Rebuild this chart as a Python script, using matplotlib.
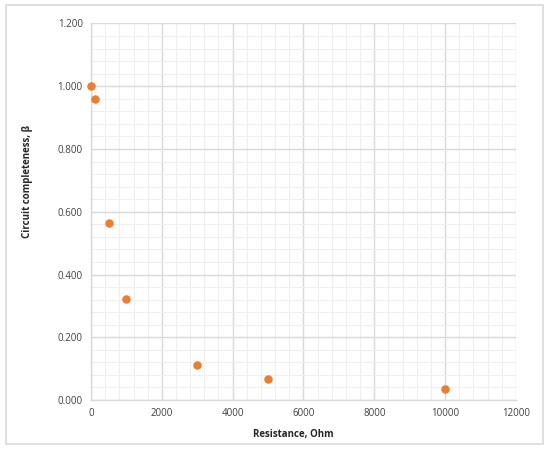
import matplotlib
matplotlib.use("Agg")
from matplotlib import pyplot as plt
from matplotlib.patches import Rectangle
from matplotlib.ticker import MultipleLocator, FormatStrFormatter

resistance = [0, 100, 500, 1000, 3000, 5000, 10000]
completeness = [1.000, 0.960, 0.563, 0.323, 0.113, 0.068, 0.034]

plt.rcParams["font.family"] = ["Open Sans", "DejaVu Sans"]

fig = plt.figure(figsize=(5.5, 4.51), dpi=100)
ax = fig.add_axes([0.1655, 0.113, 0.7725, 0.835])

# chart area border
fig.patches.append(Rectangle((6 / 550, 1 - 444 / 451), 537 / 550, 439 / 451,
                             transform=fig.transFigure, fill=False,
                             edgecolor="#D9D9D9", linewidth=1.2))

ax.scatter(resistance, completeness, s=26, color="#ED7D31", zorder=3,
           clip_on=False)

ax.set_xlim(0, 12000)
ax.set_ylim(0, 1.2)
ax.xaxis.set_major_locator(MultipleLocator(2000))
ax.xaxis.set_minor_locator(MultipleLocator(400))
ax.yaxis.set_major_locator(MultipleLocator(0.2))
ax.yaxis.set_minor_locator(MultipleLocator(0.04))
ax.yaxis.set_major_formatter(FormatStrFormatter("%.3f"))

ax.grid(which="major", color="#D9D9D9", linewidth=1.0)
ax.grid(which="minor", color="#EFEFEF", linewidth=0.8)
ax.set_axisbelow(True)

for s in ["top", "right"]:
    ax.spines[s].set_visible(False)
for s in ["left", "bottom"]:
    ax.spines[s].set_color("#D9D9D9")
    ax.spines[s].set_linewidth(1.0)

ax.tick_params(which="both", length=0, labelsize=7, pad=6)
ax.tick_params(axis="x", labelcolor="#404040")
ax.tick_params(axis="y", labelcolor="#404040")

ax.set_xlabel("Resistance, Ohm", fontsize=7, fontweight="bold", color="#262626")
ax.set_ylabel("Circuit completeness, β", fontsize=7, fontweight="bold",
              color="#262626")
ax.xaxis.set_label_coords(0.475, -0.077)
ax.yaxis.set_label_coords(-0.136, 0.58)

fig.savefig("out.png", dpi=100)
